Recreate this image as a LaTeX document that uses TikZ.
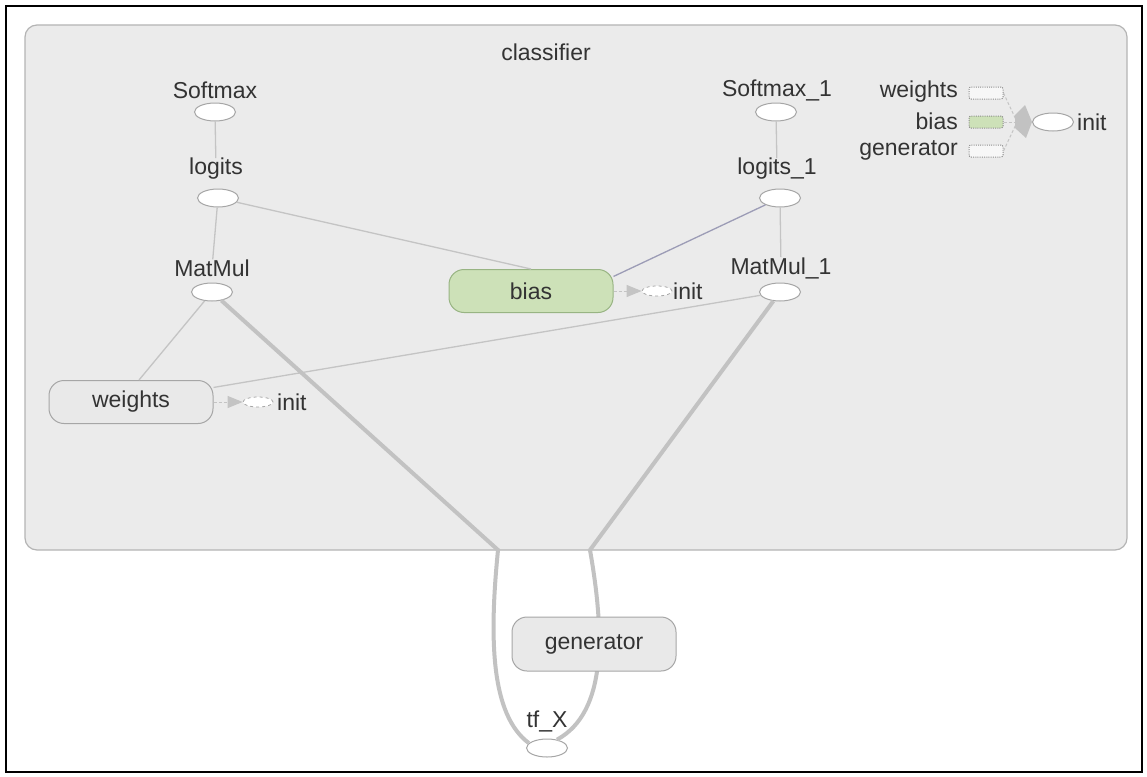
\documentclass[tikz,border=0pt]{standalone}
\usepackage{fontspec}
\setmainfont{Liberation Sans}
\usetikzlibrary{shapes.geometric,arrows.meta}
\definecolor{clsbg}{HTML}{EBEBEB}
\definecolor{clsline}{HTML}{B4B4B4}
\definecolor{boxbg}{HTML}{E9E9E9}
\definecolor{boxline}{HTML}{A6A6A6}
\definecolor{biasgreen}{HTML}{CDE1B8}
\definecolor{biasline}{HTML}{98B483}
\definecolor{edgegray}{HTML}{C4C4C4}
\definecolor{heavygray}{HTML}{C2C2C2}
\definecolor{blueedge}{HTML}{9C9CB6}
\definecolor{txtgray}{HTML}{333333}
\begin{document}
\begin{tikzpicture}[x=1pt, y=-1pt,
        font=\fontsize{23}{25}\selectfont, text=txtgray,
        lbl/.style={inner sep=0pt},
        op/.style={ellipse, draw=boxline, fill=white, line width=1pt,
            minimum width=41pt, minimum height=18pt, inner sep=0pt},
        initop/.style={ellipse, draw=boxline, dashed, fill=white, line width=0.8pt,
            minimum width=30pt, minimum height=10pt, inner sep=0pt},
        var/.style={rectangle, rounded corners=15pt, draw=boxline, fill=boxbg,
            line width=1pt, minimum width=164pt, minimum height=43pt},
        mini/.style={rectangle, rounded corners=2pt, draw=black!45,
            dash pattern=on 1pt off 1.2pt, line width=1pt,
            fill=white!60!clsbg, minimum width=34pt,
            minimum height=12pt, inner sep=0pt},
        flow/.style={draw=edgegray, line width=1.3pt},
        heavy/.style={draw=heavygray, line width=4pt},
        initflow/.style={draw=edgegray, densely dashed, line width=1pt,
            -{Triangle[length=15pt,width=12pt,fill=edgegray]}}]
    \useasboundingbox (0,0) rectangle (1147,776);
    \fill[white] (0,0) rectangle (1147,776);
    \draw[line width=2pt] (6,6) rectangle (1142,772);
    % classifier group
    \draw[draw=clsline, fill=clsbg, line width=1.2pt, rounded corners=12pt]
        (25,25) rectangle (1127,550);
    \node[lbl] (cls-t) at (546,52) {classifier};

    % left chain
    \node[lbl] (softmax-t) at (215,90) {Softmax};
    \node[op] (softmax) at (215,112) {};
    \node[lbl] (logits-t) at (216,169) {logits};
    \node[op] (logits) at (218,198) {};
    \node[lbl] (matmul-t) at (212,268) {MatMul};
    \node[op] (matmul) at (212,292) {};

    % right chain
    \node[lbl] (softmax1-t) at (777,90) {Softmax\_1};
    \node[op] (softmax1) at (776,112) {};
    \node[lbl] (logits1-t) at (777,169) {logits\_1};
    \node[op] (logits1) at (780,198) {};
    \node[lbl] (matmul1-t) at (781,268) {MatMul\_1};
    \node[op] (matmul1) at (780,292) {};

    % variables
    \node[var] (weights) at (131,402) {weights};
    \node[initop] (winit) at (258,402) {};
    \node[lbl, anchor=west] (winit-t) at (277,402) {init};
    \node[var, fill=biasgreen, draw=biasline] (bias) at (531,291) {bias};
    \node[initop] (binit) at (657,291) {};
    \node[lbl, anchor=west] (binit-t) at (673,291) {init};

    % legend, top right
    \node[lbl, anchor=east] (lw-t) at (958,92) {weights};
    \node[mini] (lw) at (986,93) {};
    \node[lbl, anchor=east] (lb-t) at (958,121) {bias};
    \node[mini, fill=biasgreen] (lb) at (986,122) {};
    \node[lbl, anchor=east] (lg-t) at (958,150) {generator};
    \node[mini] (lg) at (986,151) {};
    \node[op] (linit) at (1053,122) {};
    \node[lbl, anchor=west] (linit-t) at (1077,122) {init};
    \coordinate (lmeet) at (1017,122);
    \draw[flow, densely dashed, line width=1pt] (lw.east) -- (lmeet);
    \draw[flow, densely dashed, line width=1pt] (lb.east) -- (lmeet);
    \draw[flow, densely dashed, line width=1pt] (lg.east) -- (lmeet);
    \fill[heavygray] (1025,105) -- (linit.west) -- (1026,138) -- (1015,128)
        -- (1015,115) -- cycle;

    % tf_X
    \node[lbl] (tfx-t) at (547,721) {tf\_X};
    \node[op] (tfx) at (547,748) {};

    % edges
    \draw[flow] (softmax) -- (logits-t);
    \draw[flow] (logits) -- (matmul-t);
    \draw[flow] (logits) -- (bias.north);
    \draw[flow, draw=blueedge] (logits1) -- (bias.10);
    \draw[flow] (softmax1) -- (logits1-t);
    \draw[flow] (logits1) -- (matmul1-t);
    \draw[flow] (matmul) -- (weights.70);
    \draw[flow] (weights.10) -- (matmul1);
    \draw[initflow] (weights) -- (winit);
    \draw[initflow] (bias) -- (binit);

    \coordinate (lbend) at (498,550);
    \coordinate (rbend) at (590,550);
    \draw[heavy] (matmul) -- (lbend) .. controls (489,640) and (491,715) .. (tfx.165);
    \draw[heavy] (matmul1) -- (rbend) .. controls (604,630) and (608,712) .. (tfx.40);

    % generator on top of the edges
    \node[var, minimum height=54pt] (generator) at (594,644) {generator};
\end{tikzpicture}
\end{document}
